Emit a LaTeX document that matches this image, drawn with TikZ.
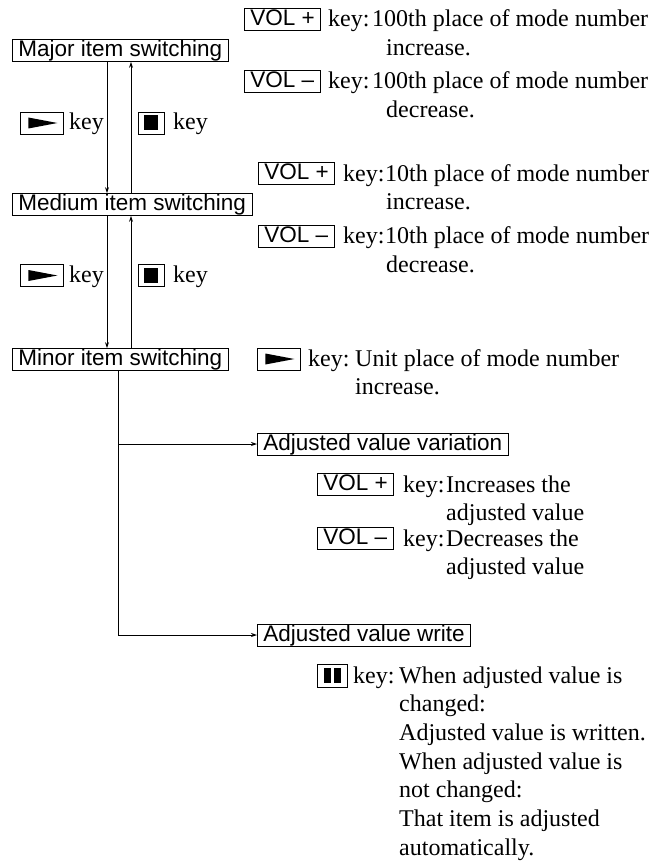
\documentclass[tikz,border=0pt]{standalone}
\usepackage{fontspec}
\setmainfont{Liberation Serif}
\newfontfamily\boxfont{Liberation Sans}
\usetikzlibrary{arrows.meta}
\begin{document}
\begin{tikzpicture}[x=1pt,y=-1pt,
  lab/.style={draw, line width=0.8pt, font=\boxfont\fontsize{22.5}{27}\selectfont,
    inner xsep=6pt, inner ysep=0.5pt, text height=16.5pt, text depth=4.5pt, anchor=west},
  symbox/.style={draw, line width=0.8pt, inner sep=0pt, minimum height=22pt, anchor=west},
  playkey/.style={symbox, minimum width=43pt,
    path picture={\fill ([xshift=8pt,yshift=-5.5pt]path picture bounding box.north west)
      -- ([xshift=-6pt]path picture bounding box.east)
      -- ([xshift=8pt,yshift=5.5pt]path picture bounding box.south west) -- cycle;}},
  stopkey/.style={symbox, minimum width=26pt,
    path picture={\fill ([xshift=-7pt,yshift=-7.5pt]path picture bounding box.center)
      rectangle ([xshift=7pt,yshift=7.5pt]path picture bounding box.center);}},
  pausekey/.style={symbox, minimum width=30pt, minimum height=23pt,
    path picture={\fill ([xshift=-8.5pt,yshift=-7.5pt]path picture bounding box.center)
      rectangle ([xshift=-1.5pt,yshift=7.5pt]path picture bounding box.center);
      \fill ([xshift=1.5pt,yshift=-7.5pt]path picture bounding box.center)
      rectangle ([xshift=8.5pt,yshift=7.5pt]path picture bounding box.center);}},
  txt/.style={font=\fontsize{24}{28.7}\selectfont, inner sep=0pt, anchor=base west},
  arr/.style={line width=0.8pt, -{Stealth[length=6pt,width=4pt]}},
  ln/.style={line width=0.8pt}
]
\useasboundingbox (0,0) rectangle (659,864);

% left column
\node[lab] (major) at (12,50.5) {Major item switching};
\node[lab] (medium) at (12,204.5) {Medium item switching};
\node[lab] (minor) at (12,359.5) {Minor item switching};

\draw[arr] ([xshift=95pt]major.south west) -- ([xshift=95pt]medium.north west);
\draw[arr] ([xshift=119pt]medium.north west) -- ([xshift=119pt]major.south west);
\draw[arr] ([xshift=95pt]medium.south west) -- ([xshift=95pt]minor.north west);
\draw[arr] ([xshift=119pt]minor.north west) -- ([xshift=119pt]medium.south west);

\node[playkey] (p1) at (20,123) {};
\node[txt] (p1k) at (69,130) {key};
\node[stopkey] (s1) at (138,123) {};
\node[txt] (s1k) at (173,130) {key};
\node[playkey] (p2) at (20,275.5) {};
\node[txt] (p2k) at (69,282.5) {key};
\node[stopkey] (s2) at (138,275.5) {};
\node[txt] (s2k) at (173,282.5) {key};

% right texts
\node[lab] (r1) at (244,19.5) {VOL +};
\node[txt] (r1k) at (328,27) {key:};
\node[txt] (r1t) at (372,27) {\parbox[t]{300pt}{\raggedright 100th place of mode number\\\hspace*{14pt}increase.}};
\node[lab] (r2) at (244,81.5) {VOL –};
\node[txt] (r2k) at (328,89) {key:};
\node[txt] (r2t) at (372,89) {\parbox[t]{300pt}{\raggedright 100th place of mode number\\\hspace*{14pt}decrease.}};
\node[lab] (r3) at (258,173.5) {VOL +};
\node[txt] (r3k) at (343,181) {key:};
\node[txt] (r3t) at (385,181) {\parbox[t]{300pt}{\raggedright 10th place of mode number\\\hspace*{1pt}increase.}};
\node[lab] (r4) at (258,236) {VOL –};
\node[txt] (r4k) at (343,243.5) {key:};
\node[txt] (r4t) at (385,243.5) {\parbox[t]{300pt}{\raggedright 10th place of mode number\\\hspace*{1pt}decrease.}};
\node[playkey] (r5) at (257,359) {};
\node[txt] (r5k) at (308,366) {key:};
\node[txt] (r5t) at (355,366) {\parbox[t]{300pt}{\raggedright Unit place of mode number\\increase.}};

% bottom branch
\node[lab] (var) at (257,444) {Adjusted value variation};
\node[lab] (write) at (257,635) {Adjusted value write};
\draw[arr] ([xshift=106pt]minor.south west) |- (write.west);
\draw[arr] ([xshift=106pt]minor.south west |- var.west) -- (var.west);

\node[lab] (r6) at (317,484.5) {VOL +};
\node[txt] (r6k) at (403,492) {key:};
\node[txt] (r6t) at (446,492) {\parbox[t]{200pt}{\raggedright Increases the\\adjusted value}};
\node[lab] (r7) at (317,538.5) {VOL –};
\node[txt] (r7k) at (403,546) {key:};
\node[txt] (r7t) at (446,546) {\parbox[t]{200pt}{\raggedright Decreases the\\adjusted value}};

\node[pausekey] (r8) at (317,675.5) {};
\node[txt] (r8k) at (353,683) {key:};
\node[txt] (r8t) at (399,683) {\parbox[t]{300pt}{\raggedright When adjusted value is\\changed:\\Adjusted value is written.\\When adjusted value is\\not changed:\\That item is adjusted\\automatically.}};
\end{tikzpicture}
\end{document}
